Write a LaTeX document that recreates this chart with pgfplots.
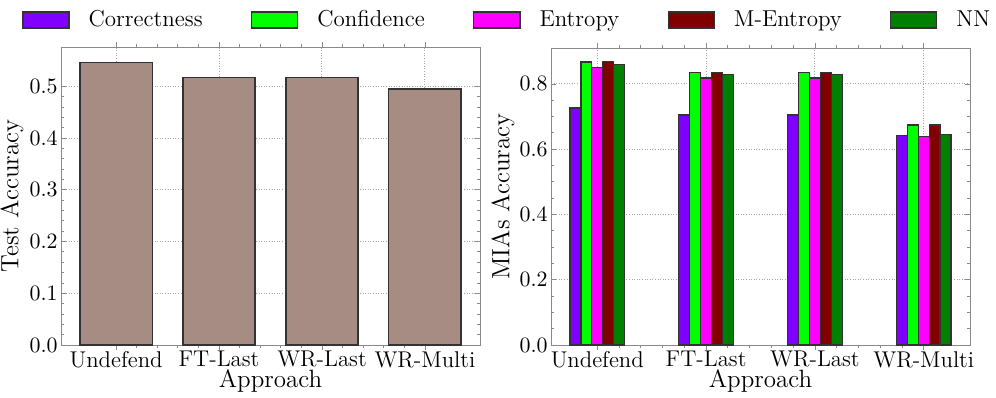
\documentclass[border=0pt]{standalone}
\usepackage{pgfplots}
\pgfplotsset{compat=1.18}
\definecolor{corr}{HTML}{7F00FF}
\definecolor{conf}{HTML}{00FF00}
\definecolor{entr}{HTML}{FF00FF}
\definecolor{mentr}{HTML}{800000}
\definecolor{nn}{HTML}{008000}
\definecolor{testbar}{HTML}{A68C82}
\definecolor{frame}{HTML}{8A8A8A}

\pgfplotsset{
  panel/.style={
    scale only axis, width=209.5pt, anchor=south west,
    ymin=0, xtick={0,1,2,3},
    xticklabels={Undefend,FT-Last,WR-Last,WR-Multi},
    minor x tick num=4,
    tick align=inside, major tick length=2.5pt, minor tick length=1.3pt,
    axis line style={frame}, every tick/.style={frame, line width=0.4pt},
    grid=major, grid style={dash pattern=on 0.5pt off 0.8pt, gray!70, line width=0.5pt},
    tick label style={font=\fontsize{11.4}{13}\selectfont},
    xticklabel style={inner sep=0.5pt},
    yticklabel style={inner sep=1.5pt, /pgf/number format/.cd, fixed, fixed zerofill, precision=1},
    label style={font=\fontsize{12.5}{15}\selectfont},
    xlabel={Approach},
    xlabel style={at={(axis description cs:0.5,-0.12)}, anchor=center},
    every axis plot/.append style={draw=black!80, line width=0.6pt},
  }
}

\begin{document}
\begin{tikzpicture}
\path[use as bounding box] (0,0) rectangle (498pt,198.5pt);

\begin{axis}[panel, at={(30.5pt,26pt)}, height=149pt,
  xmin=-0.535, xmax=3.535, ymax=0.576,
  ytick={0,0.1,0.2,0.3,0.4,0.5}, minor y tick num=4,
  ylabel={Test Accuracy},
  ylabel style={at={(axis description cs:-0.117,0.5)}, anchor=center},
  ybar, bar width=0.7]
\addplot[fill=testbar] coordinates {(0,0.546) (1,0.517) (2,0.517) (3,0.495)};
\end{axis}

\begin{axis}[panel, at={(275.5pt,26pt)}, height=148.5pt,
  xmin=-0.425, xmax=3.425, ymax=0.91,
  ytick={0,0.2,0.4,0.6,0.8}, minor y tick num=3,
  ylabel={MIAs Accuracy},
  ylabel style={at={(axis description cs:-0.1146,0.5)}, anchor=center},
  ybar, bar width=0.1,
  legend columns=5,
  legend image code/.code={\draw[#1] (0pt,-4pt) rectangle (23pt,4pt);},
  legend style={draw=none, fill=none, at={(axis description cs:-1.2625,1.0943)}, anchor=west,
    font=\fontsize{11.5}{13}\selectfont, inner sep=0pt,
    nodes={inner sep=0pt},
    /tikz/every odd column/.append style={column sep=9.5pt},
    /tikz/every even column/.append style={column sep=24.2pt}}]
\addplot[fill=corr, bar shift=-0.2] coordinates {(0,0.726) (1,0.705) (2,0.705) (3,0.643)};
\addplot[fill=conf, bar shift=-0.1] coordinates {(0,0.867) (1,0.834) (2,0.834) (3,0.674)};
\addplot[fill=entr, bar shift=0] coordinates {(0,0.851) (1,0.818) (2,0.818) (3,0.638)};
\addplot[fill=mentr, bar shift=0.1] coordinates {(0,0.868) (1,0.835) (2,0.835) (3,0.674)};
\addplot[fill=nn, bar shift=0.2] coordinates {(0,0.859) (1,0.830) (2,0.830) (3,0.644)};
\legend{Correctness,Confidence,Entropy,M-Entropy,NN}
\end{axis}
\end{tikzpicture}
\end{document}
